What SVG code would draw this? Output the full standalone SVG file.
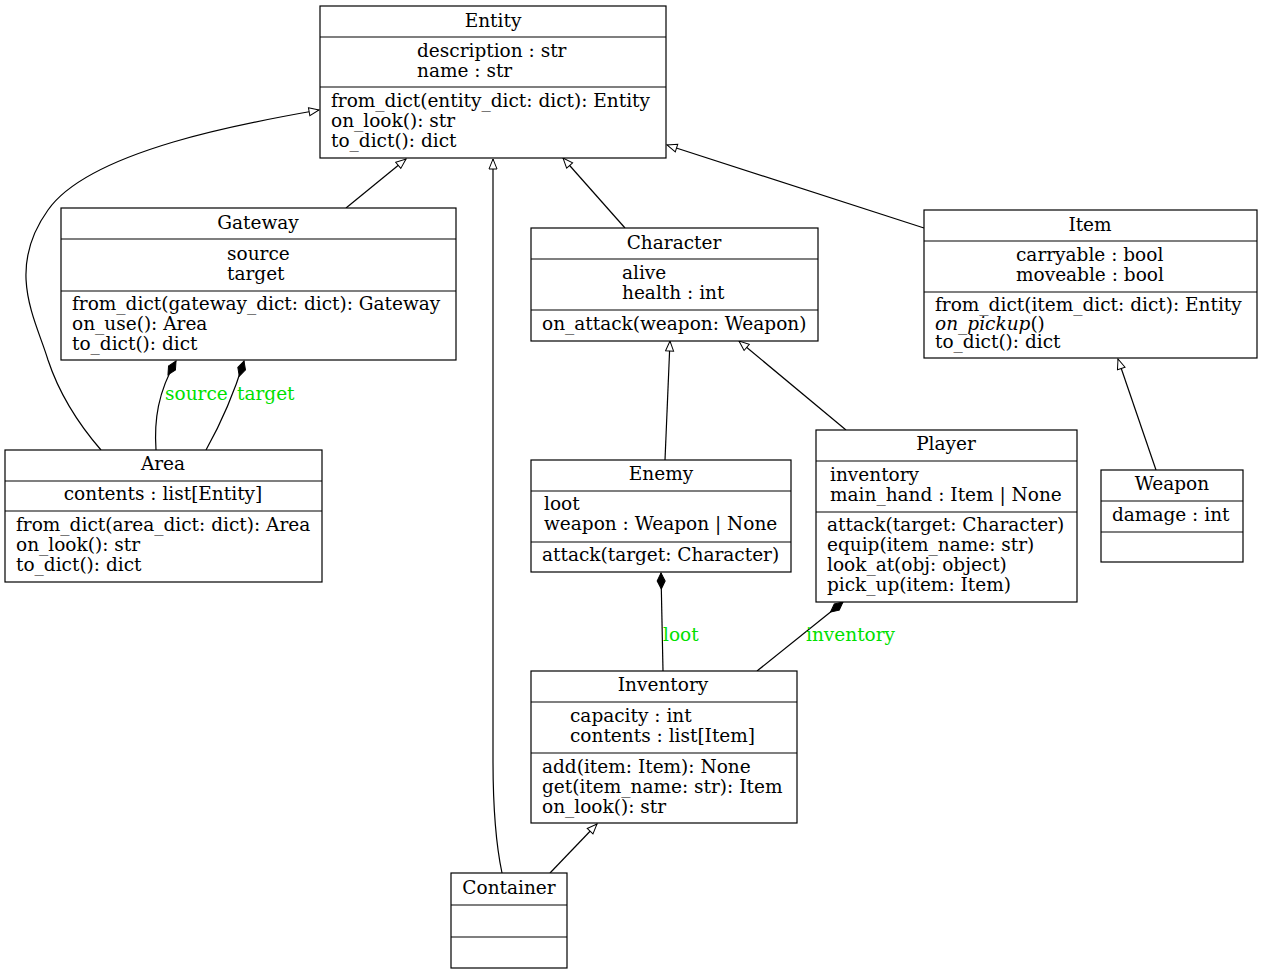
<svg xmlns="http://www.w3.org/2000/svg" width="1263" height="974" viewBox="0 0 1263 974">
<style>
text{font-family:"DejaVu Serif","Liberation Serif",serif;font-size:18.5px;fill:#000}
.t{text-anchor:middle}
.box{fill:#fff;stroke:#000;stroke-width:1.2}
.ln{stroke:#000;stroke-width:1.2}
.e{fill:none;stroke:#000;stroke-width:1.2}
.lbl{fill:#00e000}
</style>
<defs>
<marker id="tri" markerUnits="userSpaceOnUse" markerWidth="12" markerHeight="10" refX="11" refY="5" orient="auto"><path d="M1,1 L11,5 L1,9 z" fill="#fff" stroke="#000" stroke-width="1"/></marker>
<marker id="dia" markerUnits="userSpaceOnUse" markerWidth="18" markerHeight="10" refX="17" refY="5" orient="auto"><path d="M1,5 L9,1 L17,5 L9,9 z" fill="#000" stroke="#000" stroke-width="1"/></marker>
</defs>
<rect width="1263" height="974" fill="#fff"/>
<g id="connectors">
<path class="e" marker-end="url(#tri)" d="M101,450 C75,420 58,390 48,360 C36,320 5,270 48,210 C90,150 250,122 319,110"/>
<path class="e" marker-end="url(#tri)" d="M346,208 L406,159"/>
<path class="e" marker-end="url(#tri)" d="M502,873 C495,840 493,800 493,760 L493,159"/>
<path class="e" marker-end="url(#tri)" d="M625,228 L563,158"/>
<path class="e" marker-end="url(#tri)" d="M924,228 L667,145"/>
<path class="e" marker-end="url(#tri)" d="M665,460 L670,341"/>
<path class="e" marker-end="url(#tri)" d="M846,430 L739,341"/>
<path class="e" marker-end="url(#tri)" d="M1156,470 L1118,359"/>
<path class="e" marker-end="url(#tri)" d="M550,873 L597,824"/>
<path class="e" marker-end="url(#dia)" d="M156,450 C154,420 158,392 176,361"/>
<path class="e" marker-end="url(#dia)" d="M206,450 C220,425 232,400 244,361"/>
<path class="e" marker-end="url(#dia)" d="M663,671 L661,573"/>
<path class="e" marker-end="url(#dia)" d="M757,671 L843,602"/>
<text class="lbl" x="165" y="400">source</text>
<text class="lbl" x="237" y="400">target</text>
<text class="lbl" x="663" y="641">loot</text>
<text class="lbl" x="806" y="641">inventory</text>
</g>
<g id="Entity">
<rect class="box" x="320" y="6" width="346" height="152"/>
<line class="ln" x1="320" y1="37" x2="666" y2="37"/><line class="ln" x1="320" y1="87" x2="666" y2="87"/>
<text class="t" x="493" y="27">Entity</text>
<text x="417" y="57">description : str</text><text x="417" y="77">name : str</text>
<text x="331" y="107">from_dict(entity_dict: dict): Entity</text><text x="331" y="127">on_look(): str</text><text x="331" y="147">to_dict(): dict</text>
</g>
<g id="Gateway">
<rect class="box" x="61" y="208" width="395" height="152"/>
<line class="ln" x1="61" y1="239" x2="456" y2="239"/><line class="ln" x1="61" y1="291" x2="456" y2="291"/>
<text class="t" x="258" y="229">Gateway</text>
<text x="227" y="260">source</text><text x="227" y="280">target</text>
<text x="72" y="310">from_dict(gateway_dict: dict): Gateway</text><text x="72" y="330">on_use(): Area</text><text x="72" y="350">to_dict(): dict</text>
</g>
<g id="Character">
<rect class="box" x="531" y="228" width="287" height="113"/>
<line class="ln" x1="531" y1="259" x2="818" y2="259"/><line class="ln" x1="531" y1="310" x2="818" y2="310"/>
<text class="t" x="674" y="249">Character</text>
<text x="622" y="279">alive</text><text x="622" y="299">health : int</text>
<text x="542" y="330">on_attack(weapon: Weapon)</text>
</g>
<g id="Item">
<rect class="box" x="924" y="210" width="333" height="148"/>
<line class="ln" x1="924" y1="241" x2="1257" y2="241"/><line class="ln" x1="924" y1="292" x2="1257" y2="292"/>
<text class="t" x="1090" y="231">Item</text>
<text x="1016" y="261">carryable : bool</text><text x="1016" y="281">moveable : bool</text>
<text x="935" y="311">from_dict(item_dict: dict): Entity</text><text x="935" y="330" font-style="italic">on_pickup<tspan font-style="normal">()</tspan></text><text x="935" y="348">to_dict(): dict</text>
</g>
<g id="Area">
<rect class="box" x="5" y="450" width="317" height="132"/>
<line class="ln" x1="5" y1="481" x2="322" y2="481"/><line class="ln" x1="5" y1="511" x2="322" y2="511"/>
<text class="t" x="163" y="470">Area</text>
<text class="t" x="163" y="500">contents : list[Entity]</text>
<text x="16" y="531">from_dict(area_dict: dict): Area</text><text x="16" y="551">on_look(): str</text><text x="16" y="571">to_dict(): dict</text>
</g>
<g id="Enemy">
<rect class="box" x="531" y="460" width="260" height="112"/>
<line class="ln" x1="531" y1="491" x2="791" y2="491"/><line class="ln" x1="531" y1="542" x2="791" y2="542"/>
<text class="t" x="661" y="480">Enemy</text>
<text x="544" y="510">loot</text><text x="544" y="530">weapon : Weapon | None</text>
<text x="542" y="561">attack(target: Character)</text>
</g>
<g id="Player">
<rect class="box" x="816" y="430" width="261" height="172"/>
<line class="ln" x1="816" y1="461" x2="1077" y2="461"/><line class="ln" x1="816" y1="512" x2="1077" y2="512"/>
<text class="t" x="946" y="450">Player</text>
<text x="830" y="481">inventory</text><text x="830" y="501">main_hand : Item | None</text>
<text x="827" y="531">attack(target: Character)</text><text x="827" y="551">equip(item_name: str)</text><text x="827" y="571">look_at(obj: object)</text><text x="827" y="591">pick_up(item: Item)</text>
</g>
<g id="Weapon">
<rect class="box" x="1101" y="470" width="142" height="92"/>
<line class="ln" x1="1101" y1="501" x2="1243" y2="501"/><line class="ln" x1="1101" y1="532" x2="1243" y2="532"/>
<text class="t" x="1172" y="490">Weapon</text>
<text x="1112" y="521">damage : int</text>
</g>
<g id="Inventory">
<rect class="box" x="531" y="671" width="266" height="152"/>
<line class="ln" x1="531" y1="702" x2="797" y2="702"/><line class="ln" x1="531" y1="753" x2="797" y2="753"/>
<text class="t" x="663" y="691">Inventory</text>
<text x="570" y="722">capacity : int</text><text x="570" y="742">contents : list[Item]</text>
<text x="542" y="773">add(item: Item): None</text><text x="542" y="793">get(item_name: str): Item</text><text x="542" y="813">on_look(): str</text>
</g>
<g id="Container">
<rect class="box" x="451" y="873" width="116" height="95"/>
<line class="ln" x1="451" y1="905" x2="567" y2="905"/><line class="ln" x1="451" y1="937" x2="567" y2="937"/>
<text class="t" x="509" y="894">Container</text>
</g>
</svg>
